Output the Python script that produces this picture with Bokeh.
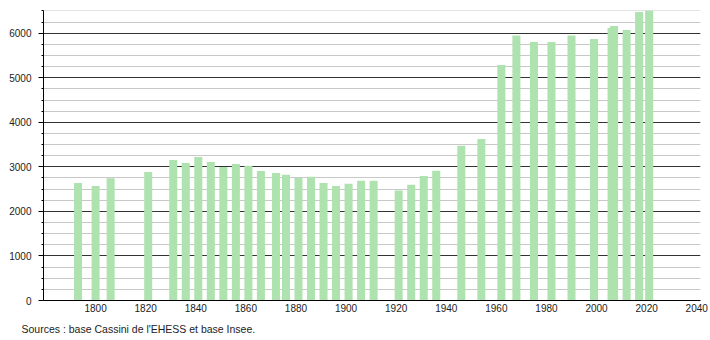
from bokeh.plotting import figure
from bokeh.models import Range1d, SingleIntervalTicker, FixedTicker, Title
from bokeh.embed import file_html
from bokeh.resources import INLINE

years = [1793, 1800, 1806, 1821, 1831, 1836, 1841, 1846, 1851, 1856, 1861, 1866,
         1872, 1876, 1881, 1886, 1891, 1896, 1901, 1906, 1911, 1921, 1926, 1931,
         1936, 1946, 1954, 1962, 1968, 1975, 1982, 1990, 1999, 2006, 2007, 2012,
         2017, 2021]
population = [2636, 2568, 2742, 2883, 3153, 3085, 3220, 3108, 2996, 3066, 3025, 2906,
              2861, 2823, 2748, 2778, 2636, 2568, 2621, 2688, 2688, 2471, 2598, 2796,
              2913, 3475, 3625, 5288, 5946, 5804, 5804, 5946, 5872, 6119, 6164, 6074,
              6479, 6510]
x_tick_years = [1800, 1820, 1840, 1860, 1880, 1900, 1920, 1940, 1960, 1980, 2000, 2020, 2040]
source_text = "Sources : base Cassini de l'EHESS et base Insee."

FONT = "Liberation Sans"
TXT = "#222222"

p = figure(width=710, height=340, output_backend="svg", toolbar_location=None,
           x_range=Range1d(1779.2, 2041.5), y_range=Range1d(0, 6510),
           min_border_left=43, min_border_right=10, min_border_top=10,
           min_border_bottom=0)
p.outline_line_color = None
p.background_fill_color = "white"
p.border_fill_color = "white"

p.vbar(x=years, top=population, width=3.2, fill_color="#aee2ae",
       line_color=None)

# x axis
p.xaxis.ticker = FixedTicker(ticks=x_tick_years)
p.xaxis.major_tick_out = 0
p.xaxis.major_tick_in = 0
p.xaxis.minor_tick_out = 0
p.xaxis.minor_tick_in = 0
p.xaxis.axis_line_color = "black"
p.xaxis.major_label_standoff = 3
p.xaxis.major_label_text_font = FONT
p.xaxis.major_label_text_font_size = "10px"
p.xaxis.major_label_text_color = TXT
p.xgrid.grid_line_color = None

# y axis
yt = SingleIntervalTicker(interval=1000, num_minor_ticks=4)
p.yaxis.ticker = yt
p.yaxis.major_tick_out = 5
p.yaxis.major_tick_in = 0
p.yaxis.minor_tick_out = 2
p.yaxis.minor_tick_in = 0
p.yaxis.axis_line_color = "black"
p.yaxis.major_tick_line_color = "black"
p.yaxis.minor_tick_line_color = "black"
p.yaxis.major_label_standoff = 7
p.yaxis.major_label_text_font = FONT
p.yaxis.major_label_text_font_size = "10px"
p.yaxis.major_label_text_color = TXT

p.ygrid.ticker = yt
p.ygrid.grid_line_color = "#333333"
p.ygrid.grid_line_width = 1
p.ygrid.minor_grid_line_color = "#c8c8c8"
p.ygrid.minor_grid_line_width = 1

src = Title(text=source_text, align="left", offset=-22, text_font=FONT,
            text_font_size="10.5px", text_font_style="normal", text_color=TXT,
            standoff=12)
p.add_layout(src, "below")

open("out.html", "w").write(file_html(p, INLINE))
